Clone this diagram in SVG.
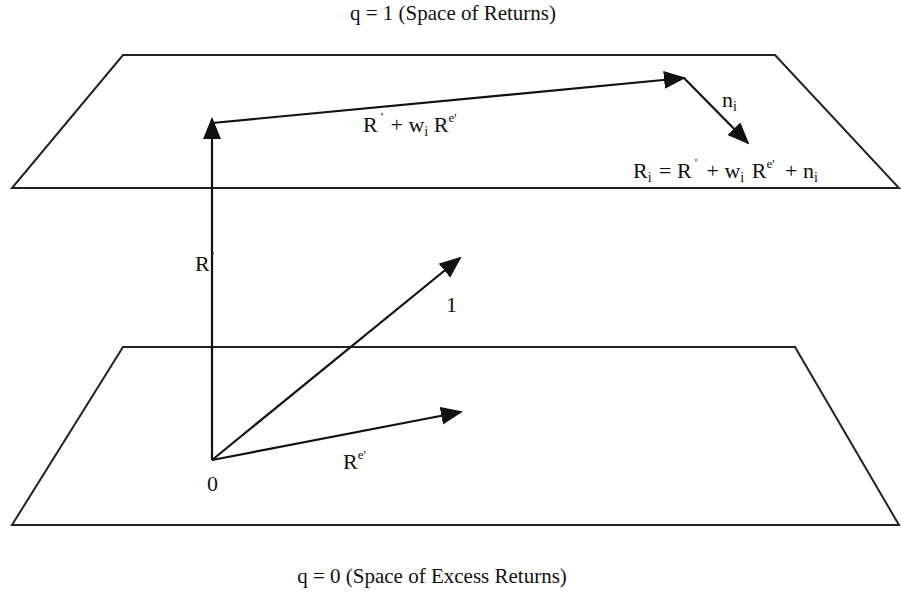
<svg xmlns="http://www.w3.org/2000/svg" width="901" height="594" viewBox="0 0 901 594">
<style>
.pl{fill:none;stroke:#222;stroke-width:2}
.ar{stroke:#111;stroke-width:2.2;marker-end:url(#ahb)}
text{font-family:"Liberation Serif","Times New Roman",serif;font-size:22px;fill:#111}
.cap{font-size:21px}
.sub{font-size:14px}
.sup{font-size:13px}
</style>
<defs>
<marker id="ahb" markerWidth="22" markerHeight="18" refX="20" refY="9" orient="auto" markerUnits="userSpaceOnUse" viewBox="0 0 22 18">
<path d="M0,0 L22,9 L0,18 z" fill="#111"/>
</marker>
</defs>
<rect width="901" height="594" fill="#fff"/>
<g id="plane-top">
<polygon class="pl" points="123,55 775,55 899,188 12,188"/>
<text class="cap" x="453" y="20" text-anchor="middle">q = 1 (Space of Returns)</text>
</g>
<g id="plane-bottom">
<polygon class="pl" points="123,347 795,347 899,525 12,525"/>
<text class="cap" x="432" y="583" text-anchor="middle">q = 0 (Space of Excess Returns)</text>
</g>
<g id="connectors">
<line class="ar" x1="212" y1="460" x2="212" y2="119"/>
<line class="ar" x1="212" y1="123" x2="684" y2="78"/>
<line class="ar" x1="684" y1="78" x2="748" y2="143"/>
<line class="ar" x1="212" y1="460" x2="460" y2="258"/>
<line class="ar" x1="212" y1="460" x2="461" y2="412"/>
</g>
<g id="labels">
<text x="363" y="132">R<tspan class="sup" dx="3" dy="-11">'</tspan><tspan dx="2" dy="11"> + w</tspan><tspan class="sub" dy="4">i</tspan><tspan dy="-4"> R</tspan><tspan class="sup" dy="-10">e'</tspan></text>
<text x="722" y="107">n<tspan class="sub" dy="4">i</tspan></text>
<text x="633" y="178">R<tspan class="sub" dy="4">i</tspan><tspan dx="2" dy="-4"> = R</tspan><tspan class="sup" dx="3" dy="-11">'</tspan><tspan dx="4" dy="11"> + w</tspan><tspan class="sub" dy="4">i</tspan><tspan dx="2" dy="-4"> R</tspan><tspan class="sup" dy="-10">e'</tspan><tspan dx="5" dy="10"> + n</tspan><tspan class="sub" dy="4">i</tspan></text>
<text x="195" y="271">R<tspan class="sup" dx="2" dy="-11">'</tspan></text>
<text x="446" y="312">1</text>
<text x="207" y="491">0</text>
<text x="343" y="469">R<tspan class="sup" dy="-10">e'</tspan></text>
</g>
</svg>
